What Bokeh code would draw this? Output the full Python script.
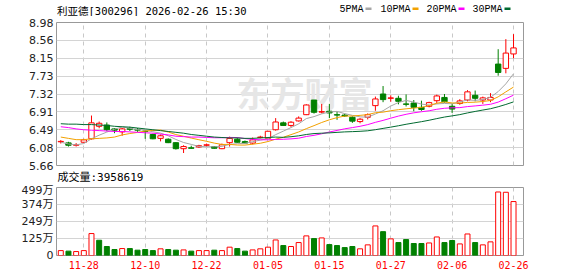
from bokeh.plotting import figure
from bokeh.layouts import column
from bokeh.models import Range1d, FixedTicker, Label, ColumnDataSource
from bokeh.core.properties import value
from bokeh.embed import file_html
from bokeh.resources import INLINE

# ---------------- data ----------------
dates = ["11-25", "11-26", "11-27", "11-28", "12-01", "12-02", "12-03", "12-04", "12-05", "12-08",
         "12-09", "12-10", "12-11", "12-12", "12-15", "12-16", "12-17", "12-18", "12-19", "12-22",
         "12-23", "12-24", "12-25", "12-26", "12-29", "12-30", "12-31", "01-05", "01-06", "01-07",
         "01-08", "01-09", "01-12", "01-13", "01-14", "01-15", "01-16", "01-19", "01-20", "01-21",
         "01-22", "01-23", "01-26", "01-27", "01-28", "01-29", "01-30", "02-02", "02-03", "02-04",
         "02-05", "02-06", "02-09", "02-10", "02-11", "02-12", "02-13", "02-24", "02-25", "02-26"]

opens = [6.21, 6.185, 6.13, 6.20, 6.28, 6.57, 6.60, 6.51, 6.44, 6.52,
         6.50, 6.46, 6.38, 6.29, 6.27, 6.19, 6.05, 6.07, 6.09, 6.13,
         6.10, 6.05, 6.19, 6.27, 6.215, 6.18, 6.31, 6.29, 6.49, 6.65,
         6.59, 6.695, 6.84, 7.18, 6.90, 6.92, 6.84, 6.83, 6.78, 6.68,
         6.78, 7.05, 7.32, 7.22, 7.22, 7.09, 7.11, 7.01, 7.035, 7.165,
         7.24, 7.035, 7.10, 7.18, 7.29, 7.18, 7.18, 8.015, 7.915, 8.25]
highs = [6.25, 6.21, 6.18, 6.28, 6.82, 6.68, 6.66, 6.53, 6.53, 6.56,
         6.53, 6.47, 6.40, 6.38, 6.29, 6.20, 6.13, 6.12, 6.14, 6.17,
         6.11, 6.17, 6.33, 6.31, 6.24, 6.31, 6.35, 6.455, 6.76, 6.68,
         6.69, 6.80, 7.08, 7.18, 7.09, 7.09, 6.91, 6.86, 6.80, 6.76,
         6.87, 7.26, 7.505, 7.29, 7.28, 7.31, 7.18, 7.165, 7.14, 7.305,
         7.32, 7.10, 7.20, 7.41, 7.40, 7.26, 7.34, 8.36, 8.594, 8.71]
lows = [6.17, 6.10, 6.10, 6.19, 6.26, 6.525, 6.455, 6.41, 6.35, 6.46,
        6.44, 6.28, 6.27, 6.22, 6.18, 6.03, 5.95, 6.05, 6.07, 6.10,
        6.05, 6.04, 6.10, 6.19, 6.17, 6.15, 6.29, 6.28, 6.47, 6.58,
        6.55, 6.68, 6.83, 6.865, 6.87, 6.76, 6.72, 6.79, 6.65, 6.64,
        6.73, 6.93, 7.13, 7.14, 7.08, 7.03, 6.92, 6.93, 7.01, 7.10,
        7.12, 6.88, 7.07, 7.15, 7.15, 7.09, 7.13, 7.745, 7.80, 8.15]
closes = [6.22, 6.13, 6.145, 6.255, 6.65, 6.64, 6.49, 6.48, 6.51, 6.50,
          6.48, 6.45, 6.28, 6.35, 6.19, 6.05, 6.10, 6.06, 6.12, 6.14,
          6.06, 6.14, 6.29, 6.20, 6.18, 6.255, 6.32, 6.455, 6.67, 6.59,
          6.665, 6.76, 7.065, 6.895, 6.91, 6.88, 6.83, 6.81, 6.69, 6.735,
          6.84, 7.205, 7.19, 7.23, 7.15, 7.08, 7.01, 6.96, 7.12, 7.275,
          7.14, 6.97, 7.16, 7.37, 7.22, 7.23, 7.24, 7.82, 8.27, 8.39]
# volume in 万 (10k shares)
volume_wan = [36, 32, 29, 36, 161, 112, 66, 44, 51, 51,
              39, 44, 36, 49, 44, 39, 41, 32, 36, 36,
              39, 36, 61, 51, 32, 41, 49, 61, 114, 73,
              66, 95, 144, 124, 129, 80, 73, 58, 66, 49,
              78, 217, 175, 122, 95, 117, 88, 88, 92, 136,
              95, 110, 85, 158, 95, 78, 100, 466, 464, 395.8619]

# moving-average values before a full window is available
ma5_head = [6.20, 6.16, 6.14, 6.17]
ma10_head = [6.32, 6.29, 6.26, 6.26, 6.28, 6.29, 6.30, 6.32, 6.37]
ma20_head = [6.56, 6.54, 6.51, 6.49, 6.48, 6.47, 6.46, 6.45, 6.45, 6.44,
             6.43, 6.42, 6.41, 6.39, 6.37, 6.34, 6.33, 6.32, 6.32]
ma30_head = [6.63, 6.62, 6.62, 6.61, 6.61, 6.60, 6.59, 6.57, 6.56, 6.55,
             6.53, 6.51, 6.49, 6.47, 6.45, 6.43, 6.41, 6.38, 6.36, 6.34,
             6.32, 6.31, 6.30, 6.30, 6.29, 6.29, 6.30, 6.31, 6.32]

price_ticks = [5.66, 6.075, 6.49, 6.905, 7.32, 7.735, 8.15, 8.565, 8.98]
price_tick_labels = ["5.66", "6.08", "6.49", "6.91", "7.32", "7.73", "8.15", "8.56", "8.98"]
vol_ticks = [0, 124.75, 249.5, 374.25, 499]
vol_tick_labels = ["0", "125万", "249万", "374万", "499万"]
date_tick_idx = [3, 11, 19, 27, 35, 43, 51, 59]

title_text = "利亚德[300296] 2026-02-26 15:30"
vol_text = "成交量:3958619"
ma_names = ["5PMA", "10PMA", "20PMA", "30PMA"]

# ---------------- styling ----------------
W = 578
BL, BR = 56, 55          # left / right borders -> frame 56..523
UP = "#ff0000"
DOWN = "#008000"
MA_COLORS = ["#a6a6a6", "#f2a100", "#ff00ff", "#006a30"]
GRID = "#d4d4d4"
FRAME = "#999999"


def moving_avg(vals, n, head):
    out = list(head)
    for i in range(len(head), len(vals)):
        out.append(sum(vals[i - n + 1:i + 1]) / n)
    return out


n = len(closes)
xs = list(range(n))
ma5 = moving_avg(closes, 5, ma5_head)
ma10 = moving_avg(closes, 10, ma10_head)
ma20 = moving_avg(closes, 20, ma20_head)
ma30 = moving_avg(closes, 30, ma30_head)

c_color = [UP if c >= o else DOWN for o, c in zip(opens, closes)]
c_fill = ["#ffffff" if c >= o else DOWN for o, c in zip(opens, closes)]
c_top = [max(o, c) for o, c in zip(opens, closes)]
c_bot = [min(o, c) for o, c in zip(opens, closes)]
prev = [opens[0]] + closes[:-1]
v_color = [UP if c >= pc else DOWN for c, pc in zip(closes, prev)]
v_fill = ["#ffffff" if c >= pc else DOWN for c, pc in zip(closes, prev)]

src = ColumnDataSource(dict(x=xs, high=highs, low=lows, top=c_top, bottom=c_bot,
                            color=c_color, fill=c_fill, vol=volume_wan,
                            vcolor=v_color, vfill=v_fill))

XR = (-0.56, 60.3)


def strip(height):
    # pixel-coordinate strip whose frame lines up with the chart frames
    f = figure(width=W, height=height, x_range=Range1d(BL, W - BR), y_range=Range1d(height, 0),
               output_backend="svg", toolbar_location=None,
               x_axis_location=None, y_axis_location=None,
               min_border_left=BL, min_border_right=BR, min_border_top=0, min_border_bottom=0)
    f.outline_line_color = None
    f.grid.visible = False
    f.background_fill_color = "#ffffff"
    f.border_fill_color = "#ffffff"
    return f


# ---------------- header strip (title + MA legend) ----------------
h = strip(16)
h.text(x=[56.5], y=[10], text=[title_text], text_font=value("DejaVu Sans Mono, Noto Sans CJK SC"),
       text_font_size="10.5px", text_color="#000000", text_baseline="middle")
leg_x = [339, 380, 426, 472]
for name, col, lx in zip(ma_names, MA_COLORS, leg_x):
    h.text(x=[lx], y=[8.5], text=[name], text_font=value("Liberation Mono"),
           text_font_size="10px", text_color="#000000", text_baseline="middle")
    h.rect(x=[lx + len(name) * 6 + 5], y=[8.3], width=6, height=2.6,
           fill_color=col, line_color=None)

# ---------------- main price panel ----------------
p = figure(width=W, height=155, x_range=Range1d(*XR), y_range=Range1d(5.66, 8.98),
           output_backend="svg", toolbar_location=None, x_axis_location=None,
           min_border_left=BL, min_border_right=BR, min_border_top=6, min_border_bottom=6)
p.outline_line_color = FRAME
p.background_fill_color = "#ffffff"
p.border_fill_color = "#ffffff"

ya = p.yaxis[0]
ya.ticker = FixedTicker(ticks=price_ticks)
ya.major_label_overrides = {t: l for t, l in zip(price_ticks, price_tick_labels)}
ya.axis_line_color = None
ya.major_tick_line_color = None
ya.minor_tick_line_color = None
ya.major_tick_out = 0
ya.major_tick_in = 0
ya.major_label_standoff = 3
ya.major_label_text_font = "DejaVu Sans"
ya.major_label_text_font_size = "11px"
ya.major_label_text_color = "#222222"

p.ygrid.grid_line_color = GRID
p.xgrid.ticker = FixedTicker(ticks=date_tick_idx)
p.xgrid.grid_line_color = "#c8c8c8"
p.xgrid.grid_line_dash = "4 4"

wm = Label(x=180, y=73, x_units="screen", y_units="screen", text="东方财富",
           text_font="Noto Sans CJK SC", text_font_style="bold", text_font_size="34px",
           text_color="#e6e6e6", text_baseline="middle", level="underlay")
p.add_layout(wm)

p.segment(x0="x", y0="low", x1="x", y1="high", line_color="color", line_width=1, source=src)
p.vbar(x="x", width=0.7, top="top", bottom="bottom", fill_color="fill",
       line_color="color", line_width=1, source=src)

for vals, col in zip([ma5, ma10, ma20, ma30], MA_COLORS):
    p.line(xs, vals, line_color=col, line_width=1)

# ---------------- volume caption strip ----------------
s = strip(12)
s.text(x=[57], y=[6], text=[vol_text], text_font=value("DejaVu Sans Mono, Noto Sans CJK SC"),
       text_font_size="11px", text_color="#000000", text_baseline="middle")

# ---------------- volume panel ----------------
v = figure(width=W, height=93, x_range=p.x_range, y_range=Range1d(0, 499),
           output_backend="svg", toolbar_location=None,
           min_border_left=BL, min_border_right=BR, min_border_top=4, min_border_bottom=21)
v.outline_line_color = FRAME
v.background_fill_color = "#ffffff"
v.border_fill_color = "#ffffff"

vy = v.yaxis[0]
vy.ticker = FixedTicker(ticks=vol_ticks)
vy.major_label_overrides = {t: l for t, l in zip(vol_ticks, vol_tick_labels)}
vy.axis_line_color = None
vy.major_tick_line_color = None
vy.minor_tick_line_color = None
vy.major_tick_out = 0
vy.major_tick_in = 0
vy.major_label_standoff = 3
vy.major_label_text_font = "DejaVu Sans, Noto Sans CJK SC"
vy.major_label_text_font_size = "11px"
vy.major_label_text_color = "#222222"

vx = v.xaxis[0]
vx.ticker = FixedTicker(ticks=date_tick_idx)
vx.major_label_overrides = {i: dates[i] for i in date_tick_idx}
vx.axis_line_color = None
vx.major_tick_line_color = None
vx.minor_tick_line_color = None
vx.major_tick_out = 0
vx.major_tick_in = 0
vx.major_label_standoff = 5
vx.major_label_text_font = "DejaVu Sans Mono"
vx.major_label_text_font_size = "10px"
vx.major_label_text_color = "#ff0000"

v.ygrid.grid_line_color = GRID
v.xgrid.grid_line_color = "#c8c8c8"
v.xgrid.grid_line_dash = "4 4"

v.vbar(x="x", width=0.65, top="vol", bottom=0, fill_color="vfill",
       line_color="vcolor", line_width=1, source=src)

layout = column(h, p, s, v, spacing=0)
open("out.html", "w").write(file_html(layout, INLINE))
